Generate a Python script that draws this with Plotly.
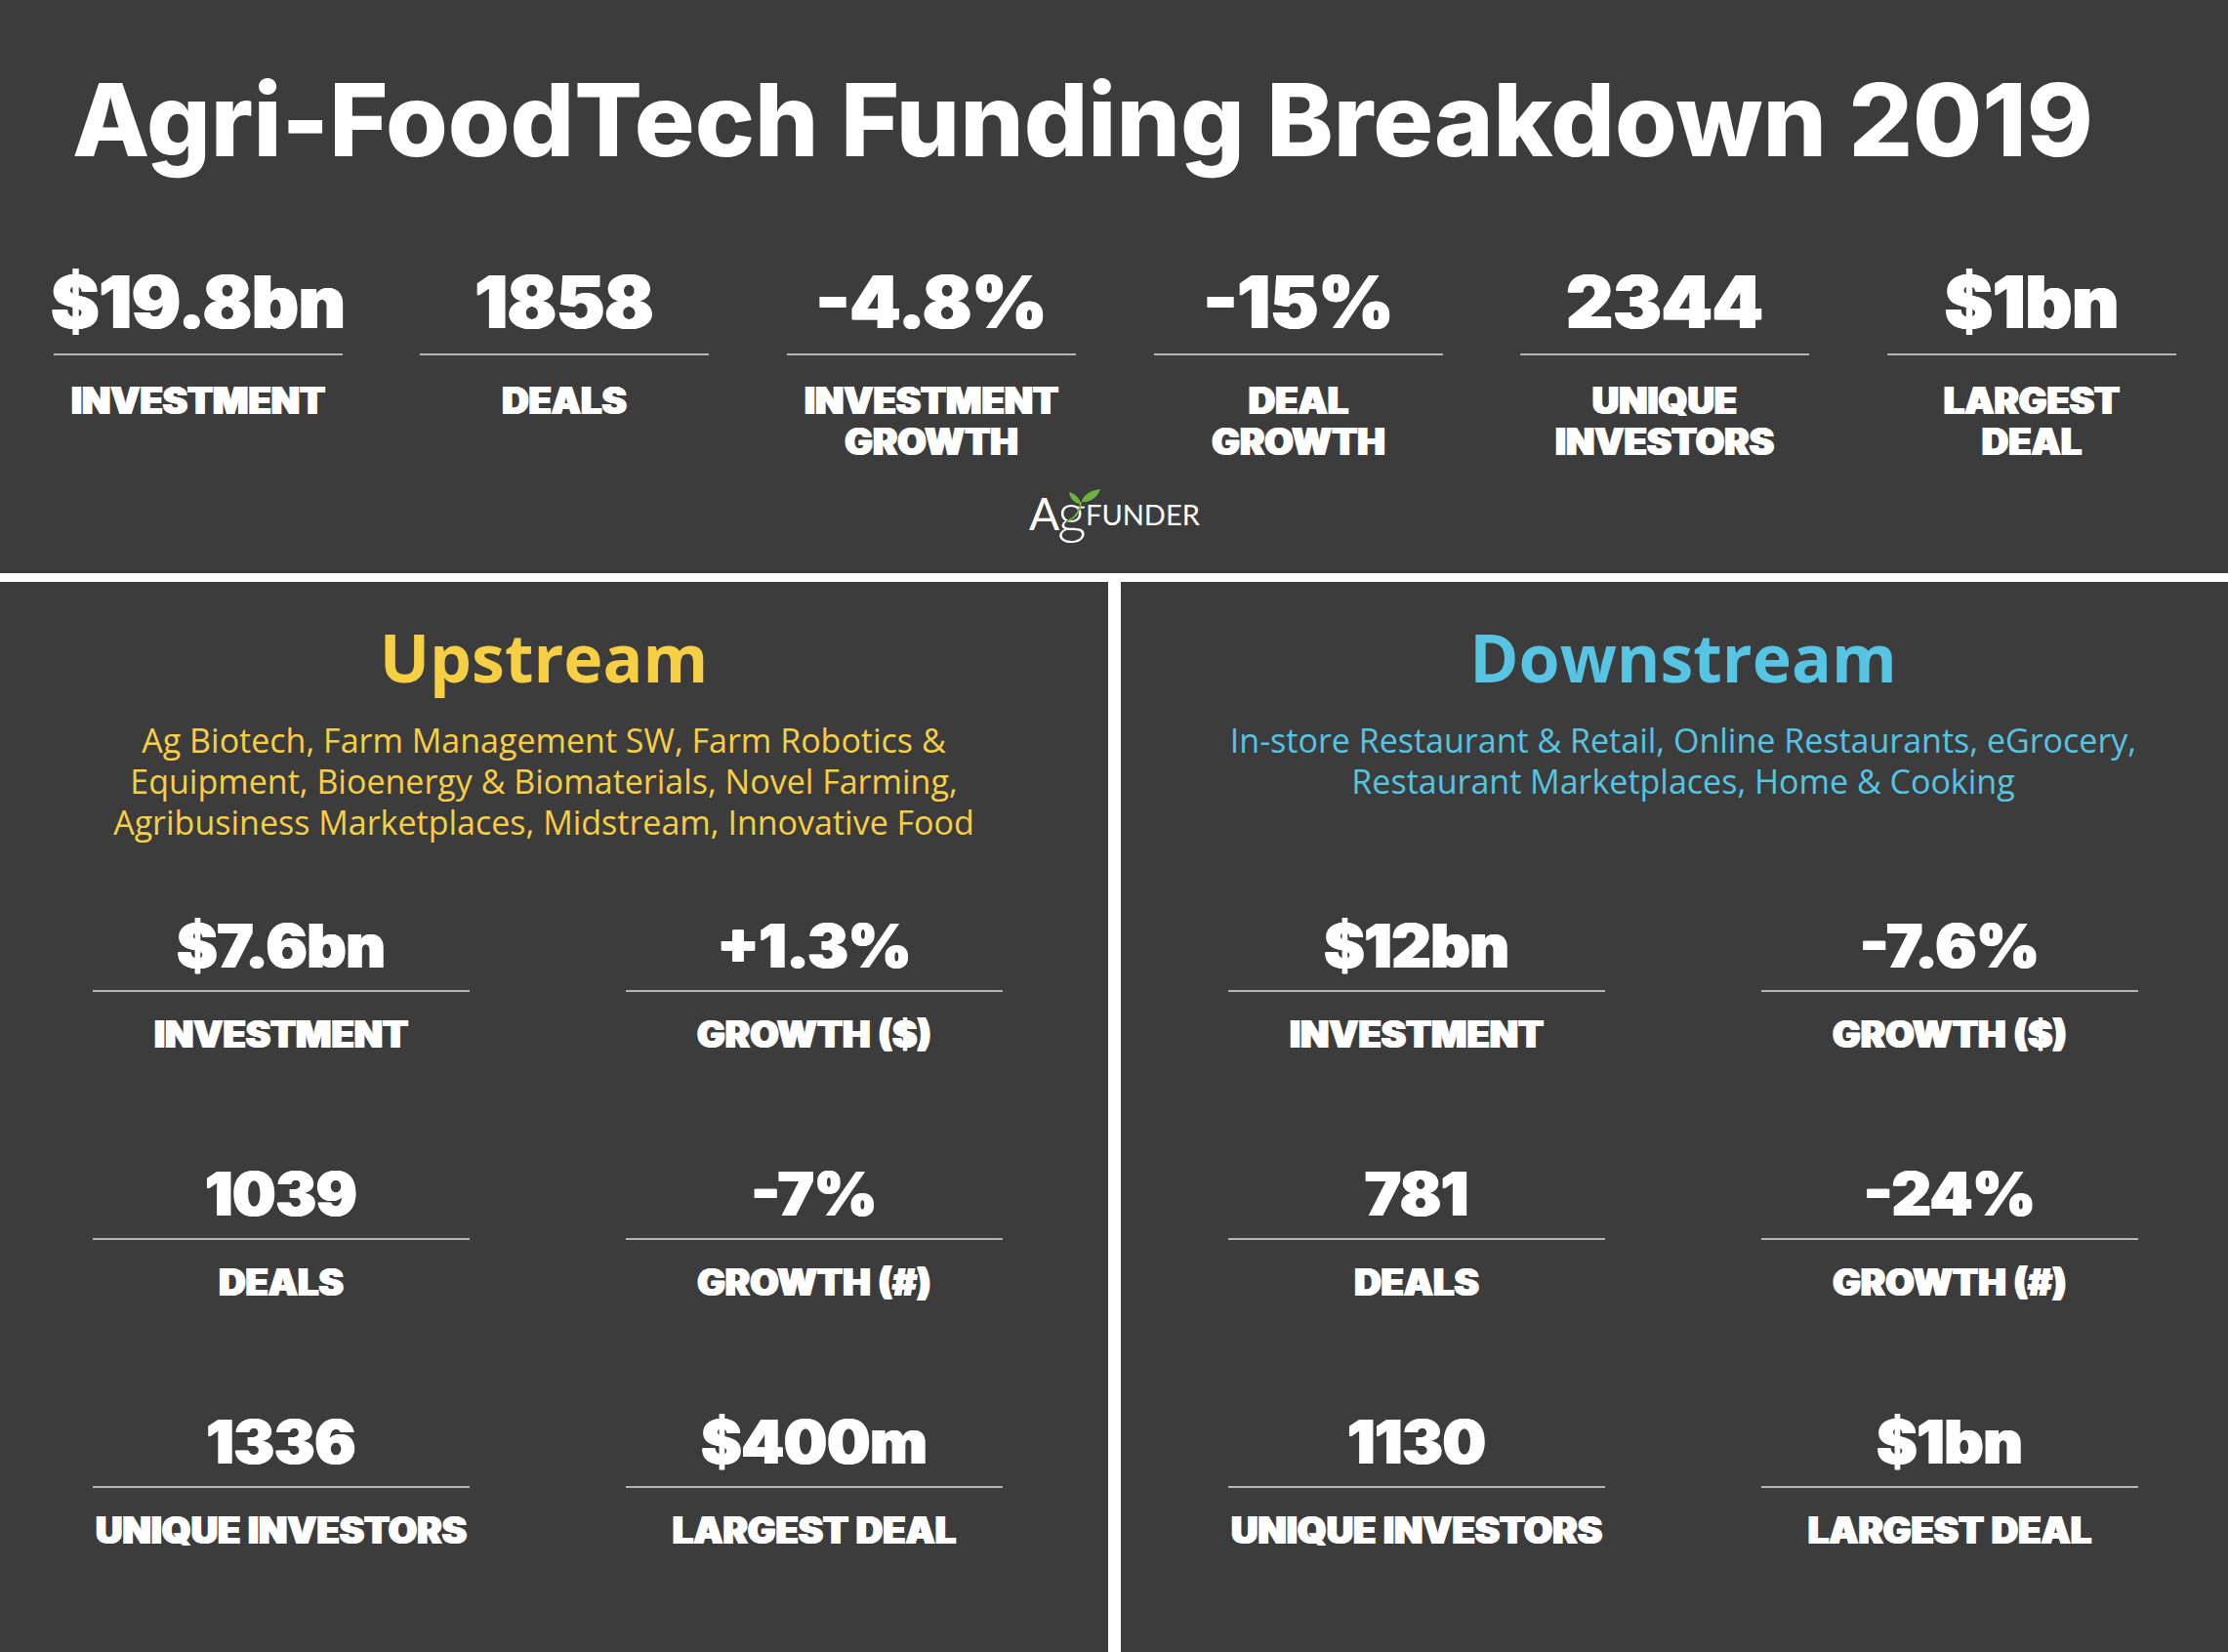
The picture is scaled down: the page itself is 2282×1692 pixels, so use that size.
import plotly.graph_objects as go

# headline figures
title = "Agri-FoodTech Funding Breakdown 2019"
top_values = ["$19.8bn", "1858", "-4.8%", "-15%", "2344", "$1bn"]
top_labels = ["INVESTMENT", "DEALS", "INVESTMENT", "DEAL", "UNIQUE", "LARGEST"]
top_labels2 = ["", "", "GROWTH", "GROWTH", "INVESTORS", "DEAL"]

# segment panels
up_name = "Upstream"
up_desc = [
    "Ag Biotech, Farm Management SW, Farm Robotics &",
    "Equipment, Bioenergy & Biomaterials, Novel Farming,",
    "Agribusiness Marketplaces, Midstream, Innovative Food",
]
up_values = ["$7.6bn", "+1.3%", "1039", "-7%", "1336", "$400m"]
down_name = "Downstream"
down_desc = [
    "In-store Restaurant & Retail, Online Restaurants, eGrocery,",
    "Restaurant Marketplaces, Home & Cooking",
]
down_values = ["$12bn", "-7.6%", "781", "-24%", "1130", "$1bn"]
panel_labels = ["INVESTMENT", "GROWTH ($)", "DEALS", "GROWTH (#)", "UNIQUE INVESTORS", "LARGEST DEAL"]

W, H = 2282, 1692
BG = "#3c3c3c"
YELLOW = "#f6cf45"
BLUE = "#56c4e2"
RULE = "#b4b4b4"

fig = go.Figure()


def add_text(xs, ys, texts, size, color, family="Inter", weight=400, shadow="none", pos="middle center"):
    fig.add_trace(go.Scatter(
        x=xs, y=ys, text=texts, mode="text", textposition=pos,
        textfont=dict(family=family, size=size, color=color, weight=weight, shadow=shadow),
        hoverinfo="skip", showlegend=False,
    ))


def add_rule(x0, x1, y):
    fig.add_shape(type="line", x0=x0, x1=x1, y0=y, y1=y, line=dict(color=RULE, width=2))


STROKE = "1px 0 0 #fff, -1px 0 0 #fff"

# title
add_text([1109], [134], [title], 103, "white", weight=800)

# top row
top_cx = [203, 578, 954, 1330, 1705, 2081]
add_text(top_cx, [317] * 6, top_values, 74, "white", weight=900, shadow=STROKE)
add_text(top_cx, [414] * 6, top_labels, 38, "white", weight=900, shadow=STROKE)
add_text(top_cx, [456] * 6, top_labels2, 38, "white", weight=900, shadow=STROKE)
for cx in top_cx:
    add_rule(cx - 148, cx + 148, 363)

# dividers
fig.add_shape(type="rect", x0=0, x1=W, y0=587, y1=596, fillcolor="white", line_width=0)
fig.add_shape(type="rect", x0=1135, x1=1148, y0=596, y1=H, fillcolor="white", line_width=0)

# panels
panels = [
    (557, up_name, up_desc, up_values, [288, 834], YELLOW),
    (1724, down_name, down_desc, down_values, [1451, 1997], BLUE),
]
for pcx, name, desc, values, cols, color in panels:
    add_text([pcx], [682], [name], 68, color, family="Open Sans", weight=700)
    add_text([pcx] * len(desc), [762, 804, 846][:len(desc)], desc, 34, color, family="Open Sans", weight=400)
    for i in range(6):
        row, col = i // 2, i % 2
        cx = cols[col]
        add_text([cx], [975 + row * 254], [values[i]], 62, "white", weight=900, shadow=STROKE)
        add_text([cx], [1063 + row * 254], [panel_labels[i]], 38, "white", weight=900, shadow=STROKE)
        add_rule(cx - 193, cx + 193, 1015 + row * 254)

# logo
add_text([1054], [531], ["A"], 46, "white", family="Lato", weight=400, pos="middle right")
add_text([1083], [531], ["g"], 58, "white", family="Lato", weight=300, pos="middle right")
add_text([1112], [531], ["FUNDER"], 29, "white", family="Lato", weight=400, pos="middle right")
LEAF = "#6cb33f"
fig.add_shape(type="path", path="M 1095 504 C 1100 505 1106 510 1107 516 C 1101 516 1096 511 1095 504 Z", fillcolor=LEAF, line_width=0)
fig.add_shape(type="path", path="M 1127 501 C 1124 510 1116 515 1108 514 C 1110 506 1118 502 1127 501 Z", fillcolor=LEAF, line_width=0)
fig.add_shape(type="path", path="M 1107 514 C 1106 524 1102 531 1092 534", line=dict(color=LEAF, width=2))

fig.update_xaxes(range=[0, W], visible=False, fixedrange=True)
fig.update_yaxes(range=[H, 0], visible=False, fixedrange=True)
fig.update_layout(
    width=W, height=H,
    margin=dict(l=0, r=0, t=0, b=0),
    paper_bgcolor=BG, plot_bgcolor=BG,
    showlegend=False,
)

fig.write_html(
    "out.html",
    config=dict(displayModeBar=False),
    post_script="document.body.style.margin='0';document.body.style.background='%s';" % BG,
)
